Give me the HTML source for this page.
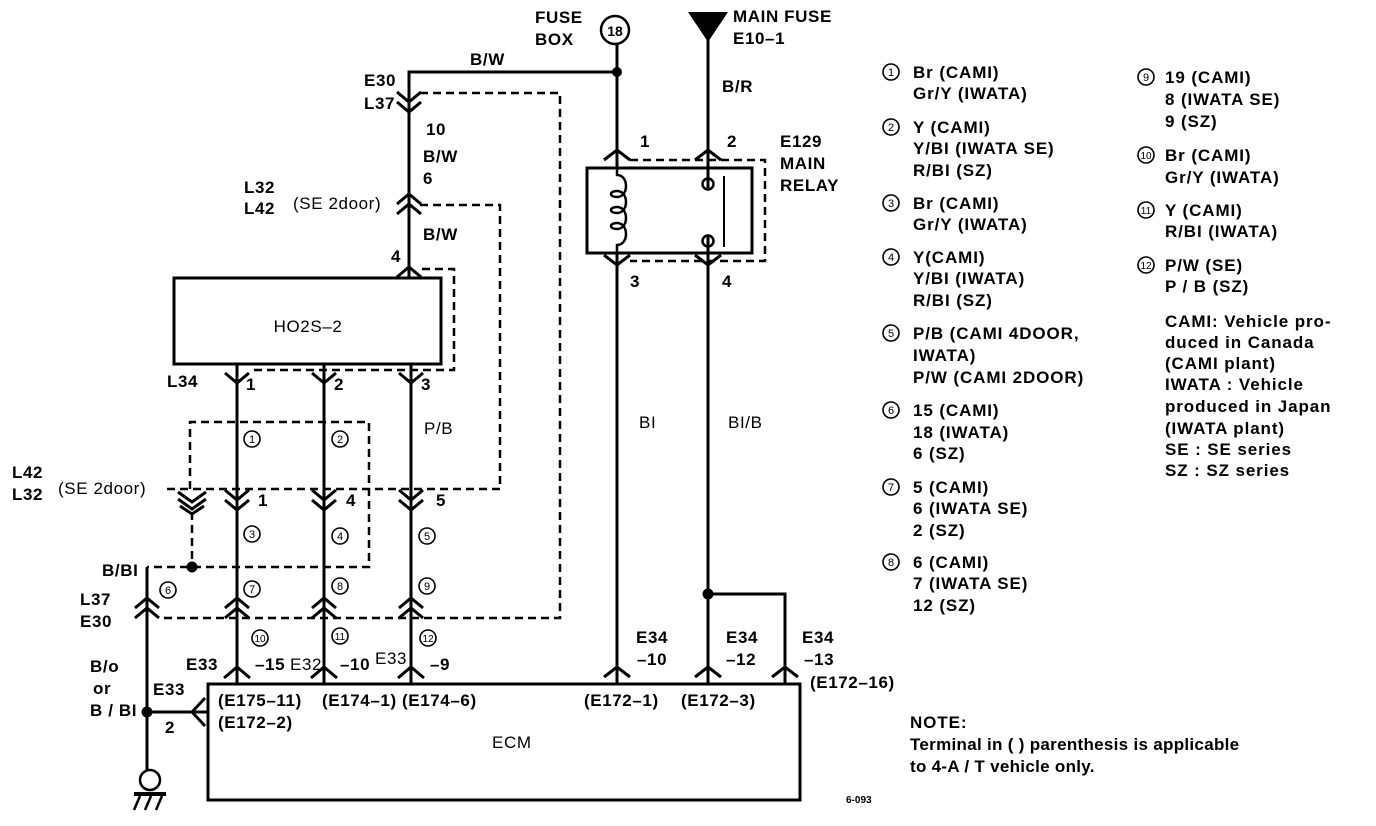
<!DOCTYPE html>
<html><head><meta charset="utf-8"><style>
html,body{margin:0;padding:0;background:#fff;}
svg{display:block;}
text{font-family:"Liberation Sans","DejaVu Sans",sans-serif;font-weight:bold;font-size:17px;letter-spacing:0.6px;fill:#000;}
.n{font-size:11px;letter-spacing:0;text-anchor:middle;font-weight:normal;}
.lg text{letter-spacing:0.9px;}
.cc circle{fill:none;stroke:#000;stroke-width:1.6;}
</style></head><body>
<svg width="1376" height="826" viewBox="0 0 1376 826" xmlns="http://www.w3.org/2000/svg">
<g fill="none" stroke="#000" stroke-width="3">
<path d="M409 278 V72 H617"/>
<circle cx="615" cy="30" r="14" stroke-width="2.5"/>
<path d="M617 44 V168"/>
<path d="M708 40 V178"/>
<rect x="174" y="278" width="267" height="86"/>
<path d="M237 364 V684 M324 364 V684 M411 364 V684"/>
<rect x="587" y="168" width="165" height="85"/>
<path d="M617 253 V684 M708 253 V684 M708 594 H785 V684"/>
<path d="M708 188 V178 M708 235 V253"/>
<path d="M724 176 V247" stroke-width="2"/>
<path d="M617 168 V175 c12 0 12 22 0 22 c-8 0 -8 -6 0 -6 c12 0 12 22 0 22 c-8 0 -8 -6 0 -6 c12 0 12 22 0 22 c-8 0 -8 -6 0 -6 c12 0 12 22 0 22 V253" stroke-width="2.5"/>
<circle cx="708" cy="184" r="5.5" stroke-width="2.5"/>
<circle cx="708" cy="241" r="5.5" stroke-width="2.5"/>
<rect x="208" y="684" width="592" height="116"/>
<path d="M147 567 V770 M147 712 H208"/>
<path d="M205 698 L192 712 L205 726"/>
<circle cx="150" cy="780" r="10" stroke-width="2.5"/>
<path d="M134 794 H166" stroke-width="4"/>
<path d="M140 796 L134 810 M151 796 L145 810 M162 796 L156 810" stroke-width="2.5"/>
<path d="M397 92 L409 102 L421 92 M397 102 L409 112 L421 102"/>
<path d="M397 204 L409 194 L421 204 M397 214 L409 204 L421 214"/>
<path d="M397 277 L409 267 L421 277"/>
<path d="M225 373 L237 383 L249 373 M312 373 L324 383 L336 373 M399 373 L411 383 L423 373"/>
<path d="M225 490 L237 500 L249 490 M225 500 L237 510 L249 500"/>
<path d="M312 490 L324 500 L336 490 M312 500 L324 510 L336 500"/>
<path d="M399 490 L411 500 L423 490 M399 500 L411 510 L423 500"/>
<path d="M178 492 L192 502 L206 492 M178 499 L192 509 L206 499 M180 506 L192 514 L204 506"/>
<path d="M135 608 L147 598 L159 608 M135 618 L147 608 L159 618"/>
<path d="M225 608 L237 598 L249 608 M225 618 L237 608 L249 618"/>
<path d="M312 608 L324 598 L336 608 M312 618 L324 608 L336 618"/>
<path d="M399 608 L411 598 L423 608 M399 618 L411 608 L423 618"/>
<path d="M224 678 L237 667 L250 678 M311 678 L324 667 L337 678 M398 678 L411 667 L424 678"/>
<path d="M604 677 L617 667 L630 677 M695 677 L708 667 L721 677 M772 677 L785 667 L798 677"/>
<path d="M604 160 L617 150 L630 160 M695 160 L708 150 L721 160"/>
<path d="M604 255 L617 265 L630 255 M695 255 L708 265 L721 255"/>
</g>
<g fill="none" stroke="#000" stroke-width="2.5" stroke-dasharray="8,5">
<path d="M420 93 H560 V618 H160"/>
<path d="M420 205 H500 V489 H162"/>
<path d="M422 269 H454 V370 H250"/>
<path d="M190 489 V422 H369 V567 H147"/>
<path d="M192 512 V567"/>
<path d="M630 160 H765 V261 H630"/>
</g>
<g fill="#000">
<circle cx="617" cy="72" r="5"/>
<circle cx="708" cy="594" r="5.5"/>
<circle cx="192" cy="567" r="5.5"/>
<circle cx="147" cy="712" r="5.5"/>
<path d="M688 12 H728 L708 42 Z"/>
</g>
<text x="615" y="36" text-anchor="middle" style="font-size:14px;letter-spacing:0">18</text>
<text x="535" y="23">FUSE</text><text x="535" y="45">BOX</text>
<text x="470" y="65">B/W</text>
<text x="733" y="22">MAIN FUSE</text><text x="733" y="44">E10–1</text>
<text x="722" y="92">B/R</text>
<text x="640" y="147">1</text><text x="727" y="147">2</text>
<text x="780" y="147">E129</text><text x="780" y="169">MAIN</text><text x="780" y="191">RELAY</text>
<text x="630" y="287">3</text><text x="722" y="287">4</text>
<text x="364" y="86">E30</text><text x="364" y="109">L37</text>
<text x="426" y="135">10</text>
<text x="423" y="162">B/W</text><text x="423" y="184">6</text>
<text x="244" y="193">L32</text><text x="244" y="214">L42</text>
<text x="293" y="209" style="font-weight:normal">(SE 2door)</text>
<text x="423" y="240">B/W</text>
<text x="391" y="262">4</text>
<text x="308" y="332" text-anchor="middle" style="font-weight:normal">HO2S–2</text>
<text x="167" y="387">L34</text>
<text x="246" y="390">1</text><text x="334" y="390">2</text><text x="421" y="390">3</text>
<text x="424" y="434" style="font-weight:normal">P/B</text>
<text x="639" y="428" style="font-weight:normal">BI</text>
<text x="728" y="428" style="font-weight:normal">BI/B</text>
<text x="12" y="478">L42</text><text x="12" y="500">L32</text>
<text x="58" y="494" style="font-weight:normal">(SE 2door)</text>
<text x="258" y="506">1</text><text x="346" y="506">4</text><text x="436" y="506">5</text>
<text x="102" y="576">B/BI</text>
<text x="80" y="605">L37</text><text x="80" y="627">E30</text>
<text x="90" y="672">B/o</text><text x="93" y="694">or</text><text x="90" y="716">B / BI</text>
<text x="153" y="695">E33</text>
<text x="165" y="733">2</text>
<text x="186" y="670">E33</text><text x="255" y="670">–15</text>
<text x="290" y="670" style="font-weight:normal">E32</text><text x="340" y="670">–10</text>
<text x="375" y="664" style="font-weight:normal">E33</text><text x="430" y="670">–9</text>
<text x="636" y="643">E34</text><text x="637" y="665">–10</text>
<text x="726" y="643">E34</text><text x="726" y="665">–12</text>
<text x="802" y="643">E34</text><text x="804" y="665">–13</text>
<text x="810" y="688">(E172–16)</text>
<text x="218" y="706">(E175–11)</text><text x="218" y="728">(E172–2)</text>
<text x="322" y="706">(E174–1)</text><text x="402" y="706">(E174–6)</text>
<text x="584" y="706">(E172–1)</text><text x="681" y="706">(E172–3)</text>
<text x="492" y="748" style="font-weight:normal">ECM</text>
<text x="846" y="803" style="font-size:10px;letter-spacing:0">6-093</text>
<!-- circled numbers diagram -->
<g class="cc">
<circle cx="252" cy="439" r="8"/><text class="n" x="252" y="443">1</text>
<circle cx="340" cy="439" r="8"/><text class="n" x="340" y="443">2</text>
<circle cx="252" cy="534" r="8"/><text class="n" x="252" y="538">3</text>
<circle cx="340" cy="536" r="8"/><text class="n" x="340" y="540">4</text>
<circle cx="427" cy="536" r="8"/><text class="n" x="427" y="540">5</text>
<circle cx="168" cy="590" r="8"/><text class="n" x="168" y="594">6</text>
<circle cx="252" cy="589" r="8"/><text class="n" x="252" y="593">7</text>
<circle cx="340" cy="586" r="8"/><text class="n" x="340" y="590">8</text>
<circle cx="427" cy="586" r="8"/><text class="n" x="427" y="590">9</text>
<circle cx="260" cy="638" r="8"/><text class="n" x="260" y="642" style="font-size:10px">10</text>
<circle cx="340" cy="636" r="8"/><text class="n" x="340" y="640" style="font-size:10px">11</text>
<circle cx="428" cy="638" r="8"/><text class="n" x="428" y="642" style="font-size:10px">12</text>
</g>
<g class="cc">
<circle cx="891" cy="72" r="8"/><text class="n" x="891" y="76">1</text>
<circle cx="891" cy="127" r="8"/><text class="n" x="891" y="131">2</text>
<circle cx="891" cy="203" r="8"/><text class="n" x="891" y="207">3</text>
<circle cx="891" cy="257" r="8"/><text class="n" x="891" y="261">4</text>
<circle cx="891" cy="333" r="8"/><text class="n" x="891" y="337">5</text>
<circle cx="891" cy="410" r="8"/><text class="n" x="891" y="414">6</text>
<circle cx="891" cy="487" r="8"/><text class="n" x="891" y="491">7</text>
<circle cx="891" cy="562" r="8"/><text class="n" x="891" y="566">8</text>
<circle cx="1146" cy="77" r="8"/><text class="n" x="1146" y="81">9</text>
<circle cx="1146" cy="155" r="8"/><text class="n" x="1146" y="159" style="font-size:10px">10</text>
<circle cx="1146" cy="210" r="8"/><text class="n" x="1146" y="214" style="font-size:10px">11</text>
<circle cx="1146" cy="265" r="8"/><text class="n" x="1146" y="269" style="font-size:10px">12</text>
</g>
<g class="lg">
<text x="913" y="78">Br (CAMI)</text><text x="913" y="99">Gr/Y (IWATA)</text>
<text x="913" y="133">Y (CAMI)</text><text x="913" y="154">Y/BI (IWATA SE)</text><text x="913" y="176">R/BI (SZ)</text>
<text x="913" y="209">Br (CAMI)</text><text x="913" y="230">Gr/Y (IWATA)</text>
<text x="913" y="263">Y(CAMI)</text><text x="913" y="284">Y/BI (IWATA)</text><text x="913" y="306">R/BI (SZ)</text>
<text x="913" y="339">P/B (CAMI 4DOOR,</text><text x="913" y="361">IWATA)</text><text x="913" y="383">P/W (CAMI 2DOOR)</text>
<text x="913" y="416">15 (CAMI)</text><text x="913" y="438">18 (IWATA)</text><text x="913" y="459">6 (SZ)</text>
<text x="913" y="493">5 (CAMI)</text><text x="913" y="514">6 (IWATA SE)</text><text x="913" y="536">2 (SZ)</text>
<text x="913" y="568">6 (CAMI)</text><text x="913" y="589">7 (IWATA SE)</text><text x="913" y="611">12 (SZ)</text>
<text x="1165" y="83">19 (CAMI)</text><text x="1165" y="105">8 (IWATA SE)</text><text x="1165" y="127">9 (SZ)</text>
<text x="1165" y="161">Br (CAMI)</text><text x="1165" y="183">Gr/Y (IWATA)</text>
<text x="1165" y="216">Y (CAMI)</text><text x="1165" y="237">R/BI (IWATA)</text>
<text x="1165" y="271">P/W (SE)</text><text x="1165" y="292">P / B (SZ)</text>
<text x="1165" y="327">CAMI: Vehicle pro-</text><text x="1165" y="348">duced in Canada</text>
<text x="1165" y="369">(CAMI plant)</text><text x="1165" y="390">IWATA : Vehicle</text>
<text x="1165" y="412">produced in Japan</text><text x="1165" y="434">(IWATA plant)</text>
<text x="1165" y="455">SE : SE series</text><text x="1165" y="476">SZ : SZ series</text>
<text x="910" y="728">NOTE:</text>
<text x="910" y="750" style="letter-spacing:0.3px">Terminal in (  ) parenthesis is applicable</text>
<text x="910" y="772" style="letter-spacing:0.3px">to 4-A / T vehicle only.</text>
</g>
</svg>
</body></html>
